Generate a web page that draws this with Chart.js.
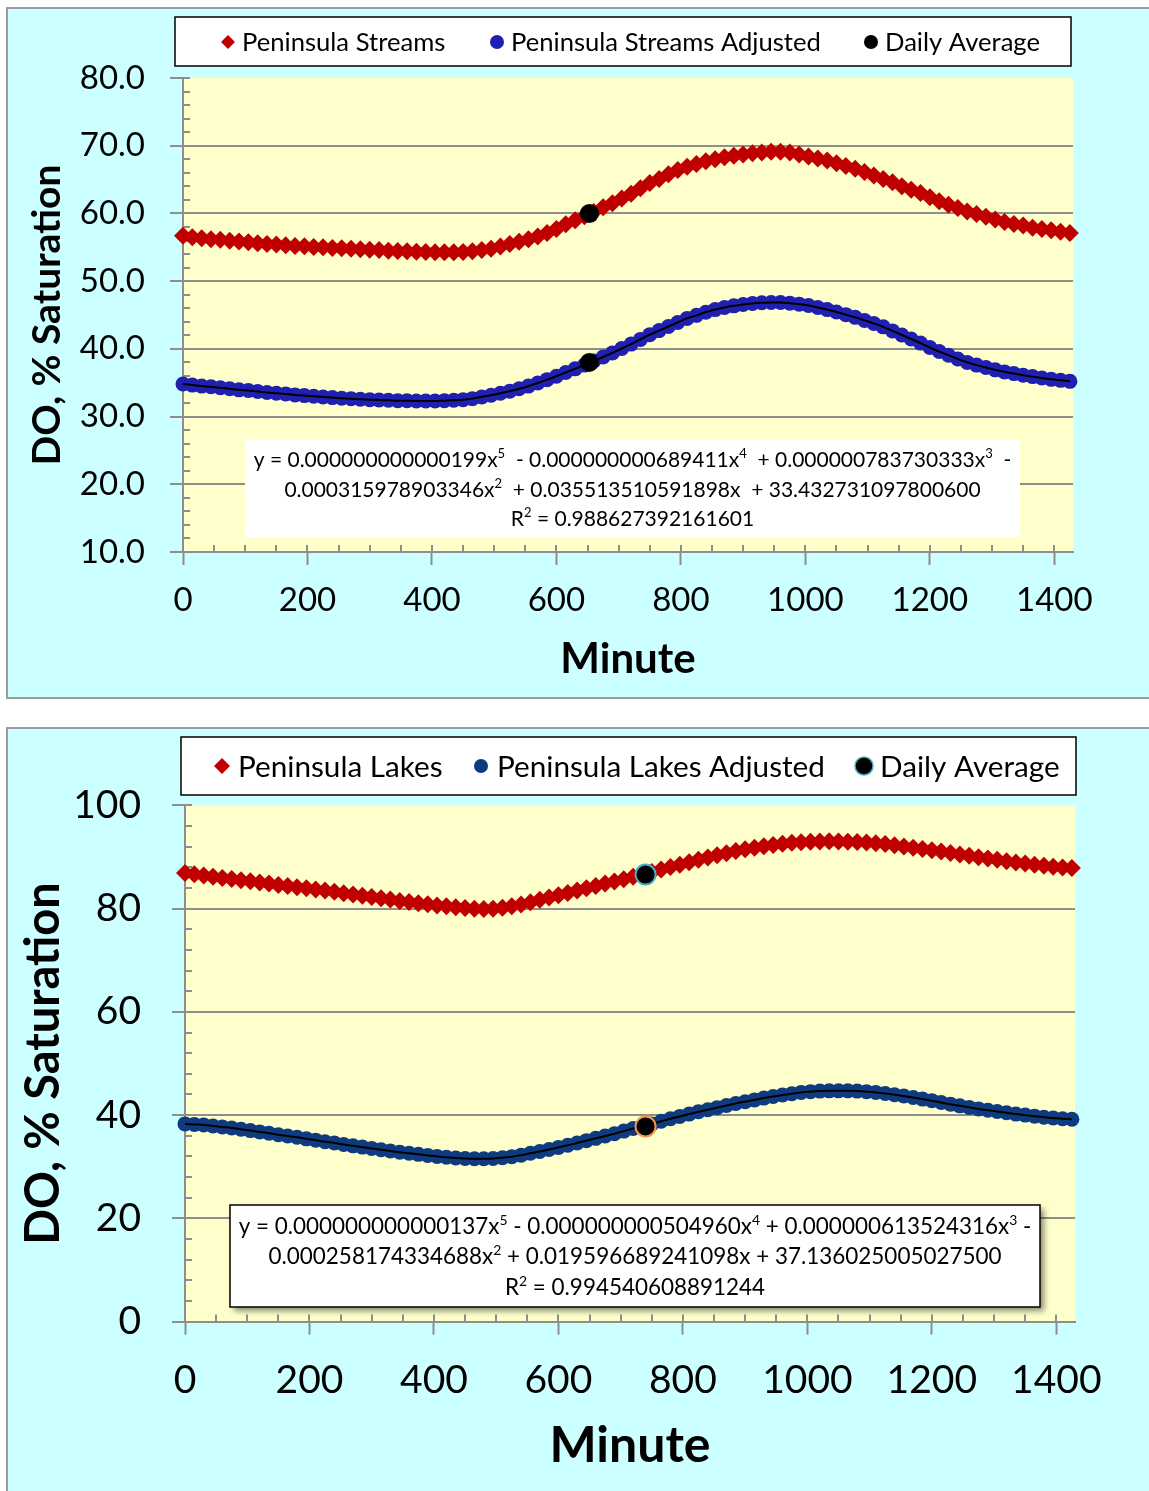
<!DOCTYPE html>
<html>
<head>
<meta charset="utf-8">
<title>DO % Saturation — Peninsula Streams / Lakes</title>
<script src="https://cdn.jsdelivr.net/npm/chart.js@4.4.1/dist/chart.umd.min.js"></script>
<style>
  html, body { margin: 0; padding: 0; background: #fff; overflow: hidden; }
  body { width: 1149px; height: 1491px; position: relative; }
  .panel { position: absolute; left: 6px; width: 1170px; background: #CCFFFF; border: 2px solid #9c9c9c; box-sizing: border-box; }
  #panelTop { top: 7px; height: 692px; }
  #panelBottom { top: 727px; height: 800px; }
  canvas { position: absolute; left: 0; }
  #streams { top: 0; width: 1149px; height: 720px; }
  #lakes { top: 720px; width: 1149px; height: 771px; }
</style>
</head>
<body>
<div class="panel" id="panelTop"></div>
<div class="panel" id="panelBottom"></div>
<canvas id="streams" width="1149" height="720"></canvas>
<canvas id="lakes" width="1149" height="771"></canvas>
<script>
// sample times (minutes), one reading every 15 min
const MINUTES = [
  0, 15, 30, 45, 60, 75, 90, 105, 120, 135, 150, 165,
  180, 195, 210, 225, 240, 255, 270, 285, 300, 315, 330, 345,
  360, 375, 390, 405, 420, 435, 450, 465, 480, 495, 510, 525,
  540, 555, 570, 585, 600, 615, 630, 645, 660, 675, 690, 705,
  720, 735, 750, 765, 780, 795, 810, 825, 840, 855, 870, 885,
  900, 915, 930, 945, 960, 975, 990, 1005, 1020, 1035, 1050, 1065,
  1080, 1095, 1110, 1125, 1140, 1155, 1170, 1185, 1200, 1215, 1230, 1245,
  1260, 1275, 1290, 1305, 1320, 1335, 1350, 1365, 1380, 1395, 1410, 1425
];

const STREAMS = [
  56.7, 56.5, 56.35, 56.2, 56.1, 55.95, 55.85, 55.75, 55.6, 55.5, 55.4, 55.3,
  55.2, 55.15, 55.05, 55.0, 54.9, 54.85, 54.8, 54.7, 54.65, 54.6, 54.5, 54.45,
  54.4, 54.35, 54.3, 54.25, 54.25, 54.25, 54.3, 54.4, 54.6, 54.8, 55.1, 55.5,
  55.8, 56.2, 56.6, 57.1, 57.7, 58.4, 59.0, 59.6, 60.2, 60.9, 61.5, 62.2,
  62.9, 63.7, 64.5, 65.1, 65.8, 66.4, 66.9, 67.3, 67.7, 68.0, 68.3, 68.5,
  68.7, 68.9, 69.0, 69.1, 69.1, 69.0, 68.7, 68.4, 68.1, 67.8, 67.4, 67.0,
  66.6, 66.1, 65.6, 65.1, 64.6, 64.0, 63.5, 63.0, 62.4, 61.8, 61.3, 60.8,
  60.3, 59.9, 59.5, 59.1, 58.75, 58.45, 58.2, 57.9, 57.7, 57.5, 57.3, 57.1
];
const STREAMS_ADJ = [
  34.8, 34.65, 34.5, 34.4, 34.25, 34.1, 33.95, 33.85, 33.7, 33.55, 33.45, 33.35,
  33.2, 33.1, 33.0, 32.9, 32.8, 32.7, 32.65, 32.55, 32.5, 32.45, 32.4, 32.35,
  32.35, 32.3, 32.3, 32.3, 32.35, 32.4, 32.5, 32.65, 32.9, 33.15, 33.45, 33.75,
  34.1, 34.5, 34.95, 35.45, 35.95, 36.5, 37.05, 37.6, 38.2, 38.8, 39.4, 40.05,
  40.7, 41.4, 42.1, 42.7, 43.3, 43.9, 44.5, 44.95, 45.4, 45.8, 46.1, 46.35,
  46.55, 46.7, 46.8, 46.85, 46.85, 46.75, 46.6, 46.4, 46.1, 45.8, 45.45, 45.05,
  44.65, 44.2, 43.75, 43.25, 42.65, 42.05, 41.45, 40.85, 40.2, 39.6, 39.05, 38.5,
  38.0, 37.6, 37.25, 36.9, 36.6, 36.35, 36.1, 35.9, 35.7, 35.5, 35.35, 35.2
];
const STREAMS_AVG_X = [653, 653];
const STREAMS_AVG = [60.0, 38.0];

const LAKES = [
  86.9, 86.65, 86.4, 86.2, 85.95, 85.75, 85.5, 85.3, 85.05, 84.85, 84.6, 84.4,
  84.15, 83.95, 83.7, 83.5, 83.25, 83.0, 82.75, 82.5, 82.25, 82.0, 81.75, 81.5,
  81.3, 81.05, 80.85, 80.6, 80.45, 80.25, 80.1, 80.0, 79.95, 80.0, 80.15, 80.45,
  80.8, 81.25, 81.7, 82.15, 82.6, 83.05, 83.5, 83.95, 84.4, 84.85, 85.25, 85.7,
  86.2, 86.65, 87.1, 87.6, 88.05, 88.5, 89.0, 89.45, 89.9, 90.35, 90.75, 91.15,
  91.5, 91.8, 92.1, 92.35, 92.55, 92.75, 92.85, 92.95, 93.0, 93.05, 93.0, 92.95,
  92.9, 92.8, 92.65, 92.5, 92.3, 92.05, 91.8, 91.55, 91.3, 91.05, 90.8, 90.5,
  90.25, 89.95, 89.7, 89.45, 89.2, 88.95, 88.75, 88.5, 88.3, 88.1, 87.95, 87.85
];
const LAKES_ADJ = [
  38.3, 38.2, 38.1, 37.9, 37.7, 37.5, 37.25, 37.0, 36.75, 36.5, 36.2, 35.95,
  35.7, 35.4, 35.15, 34.85, 34.6, 34.3, 34.05, 33.8, 33.55, 33.3, 33.05, 32.8,
  32.6, 32.4, 32.2, 32.0, 31.85, 31.7, 31.6, 31.55, 31.55, 31.6, 31.75, 31.95,
  32.25, 32.6, 32.95, 33.35, 33.75, 34.15, 34.6, 35.05, 35.5, 35.95, 36.4, 36.9,
  37.4, 37.85, 38.3, 38.8, 39.3, 39.75, 40.2, 40.65, 41.05, 41.45, 41.85, 42.25,
  42.6, 42.95, 43.3, 43.6, 43.9, 44.15, 44.4, 44.55, 44.65, 44.7, 44.7, 44.7,
  44.65, 44.55, 44.4, 44.2, 43.95, 43.7, 43.4, 43.1, 42.8, 42.45, 42.1, 41.8,
  41.5, 41.2, 40.95, 40.7, 40.45, 40.2, 40.0, 39.8, 39.6, 39.45, 39.3, 39.2
];
const LAKES_AVG_X = [740, 740];
const LAKES_AVG = [86.6, 37.8];

const X_TICKS = [0, 200, 400, 600, 800, 1000, 1200, 1400];
const STREAMS_Y_TICKS = [10, 20, 30, 40, 50, 60, 70, 80];
const LAKES_Y_TICKS = [0, 20, 40, 60, 80, 100];

// trendline labels, ^n marks a superscript
const STREAMS_FIT = [
  'y = 0.000000000000199x^5  - 0.000000000689411x^4  + 0.000000783730333x^3  -',
  '0.000315978903346x^2  + 0.035513510591898x  + 33.432731097800600',
  'R^2 = 0.988627392161601'
];
const LAKES_FIT = [
  'y = 0.000000000000137x^5 - 0.000000000504960x^4 + 0.000000613524316x^3 -',
  '0.000258174334688x^2 + 0.019596689241098x + 37.136025005027500',
  'R^2 = 0.994540608891244'
];

const FONT = "Lato, 'Open Sans', sans-serif";
const RED = '#C00000';
const GRID = '#8e8e8e';

Chart.defaults.font.family = FONT;
Chart.defaults.color = '#000';

const pairs = (xs, ys) => ys.map((y, i) => ({ x: xs[i], y }));

const segsOf = (line) => line.split(/\^(\d)/);

const lineWidth = (ctx, line, size) => {
  let w = 0;
  segsOf(line).forEach((s, i) => {
    ctx.font = `${i % 2 ? size * 0.62 : size}px ${FONT}`;
    w += ctx.measureText(s).width;
  });
  return w;
};

// plot background
const plotBg = {
  id: 'plotBg',
  beforeDraw(chart, args, o) {
    const { ctx, chartArea: a } = chart;
    ctx.save();
    ctx.fillStyle = o.color;
    ctx.fillRect(a.left, a.top, a.right - a.left, a.bottom - a.top);
    ctx.restore();
  }
};

// minor ticks drawn inside the plot
const minorTicks = {
  id: 'minorTicks',
  beforeDatasetsDraw(chart, args, o) {
    const { ctx, chartArea: a, scales: { x, y } } = chart;
    ctx.save();
    ctx.strokeStyle = GRID;
    ctx.lineWidth = 2;
    ctx.beginPath();
    for (let v = y.min; v <= y.max; v += o.yStep) {
      const py = Math.round(y.getPixelForValue(v));
      ctx.moveTo(a.left, py);
      ctx.lineTo(a.left + 7, py);
    }
    for (let v = o.xStep; v <= x.max; v += o.xStep) {
      const px = Math.round(x.getPixelForValue(v));
      ctx.moveTo(px, a.bottom);
      ctx.lineTo(px, a.bottom - 7);
    }
    ctx.stroke();
    ctx.restore();
  }
};

// boxed legend on top of the plot
const boxedLegend = {
  id: 'boxedLegend',
  afterDraw(chart, args, o) {
    const { ctx } = chart;
    const [bx, by, bw, bh] = o.box;
    ctx.save();
    ctx.fillStyle = '#fff';
    ctx.fillRect(bx, by, bw, bh);
    ctx.strokeStyle = '#000';
    ctx.lineWidth = 1.5;
    ctx.strokeRect(bx, by, bw, bh);

    const items = chart.data.datasets.filter(d => d.inLegend !== false);
    ctx.font = `100px ${FONT}`;
    const size = 100 * o.fitWidth / ctx.measureText(items[o.fitIndex].label).width;
    items.forEach((d, i) => {
      const mx = o.markerX[i];
      const first = (v) => Array.isArray(v) ? v[0] : v;
      ctx.fillStyle = first(d.pointBackgroundColor);
      ctx.strokeStyle = first(d.pointBorderColor) || ctx.fillStyle;
      Chart.helpers.drawPoint(ctx, {
        pointStyle: d.pointStyle || 'circle',
        radius: o.radius[i],
        borderWidth: first(d.pointBorderWidth) || 0,
        rotation: 0
      }, mx, o.y);
      ctx.fillStyle = '#000';
      ctx.font = `${size}px ${FONT}`;
      ctx.textBaseline = 'middle';
      ctx.textAlign = 'left';
      ctx.fillText(d.label, mx + o.gap, o.y + 1);
    });
    ctx.restore();
  }
};

// trendline equation box
const fitLabel = {
  id: 'fitLabel',
  afterDatasetsDraw(chart, args, o) {
    const { ctx } = chart;
    const [bx, by, bw, bh] = o.box;
    ctx.save();
    if (o.shadow) {
      ctx.shadowColor = 'rgba(0,0,0,0.45)';
      ctx.shadowBlur = 6;
      ctx.shadowOffsetX = 4;
      ctx.shadowOffsetY = 4;
    }
    ctx.fillStyle = '#fff';
    ctx.fillRect(bx, by, bw, bh);
    ctx.shadowColor = 'transparent';
    if (o.border) {
      ctx.strokeStyle = '#000';
      ctx.lineWidth = 1.5;
      ctx.strokeRect(bx, by, bw, bh);
    }
    const size = 100 * o.fitWidth / lineWidth(ctx, o.lines[0], 100);
    const cx = bx + bw / 2;
    ctx.fillStyle = '#000';
    ctx.textBaseline = 'alphabetic';
    ctx.textAlign = 'left';
    o.lines.forEach((line, li) => {
      let x = cx - lineWidth(ctx, line, size) / 2;
      const base = o.lineY[li] + size * 0.36;
      segsOf(line).forEach((s, i) => {
        const sup = i % 2 === 1;
        ctx.font = `${sup ? size * 0.62 : size}px ${FONT}`;
        ctx.fillText(s, x, sup ? base - size * 0.4 : base);
        x += ctx.measureText(s).width;
      });
    });
    ctx.restore();
  }
};

function axisX(o) {
  return {
    type: 'linear',
    min: 0,
    max: 1430,
    afterBuildTicks: (s) => { s.ticks = X_TICKS.map(v => ({ value: v })); },
    afterFit: (s) => { s.height = o.height; },
    ticks: { color: '#000', font: { size: o.tickSize }, padding: o.tickPad, maxRotation: 0, autoSkip: false, callback: (v) => String(v) },
    grid: { drawOnChartArea: false, drawTicks: true, tickLength: 13, tickColor: GRID, tickWidth: 2 },
    border: { display: true, color: GRID, width: 2 },
    title: { display: true, text: 'Minute', color: '#000', font: { size: o.titleSize, weight: 'bold' }, padding: { top: 0, bottom: o.titlePad } }
  };
}

function axisY(o) {
  return {
    min: o.ticksList[0],
    max: o.ticksList[o.ticksList.length - 1],
    afterBuildTicks: (s) => { s.ticks = o.ticksList.map(v => ({ value: v })); },
    afterFit: (s) => { s.width = o.width; },
    ticks: { color: '#000', font: { size: o.tickSize }, padding: o.tickPad, callback: o.fmt },
    grid: {
      color: (c) => (c.tick && c.tick.value === o.ticksList[o.ticksList.length - 1]) ? 'rgba(0,0,0,0)' : GRID,
      lineWidth: 2, tickLength: 13, tickColor: GRID, tickWidth: 2
    },
    border: { display: true, color: GRID, width: 2 },
    title: { display: true, text: 'DO, % Saturation', color: '#000', font: { size: o.titleSize, weight: 'bold' }, padding: { top: o.titlePad, bottom: 0 } }
  };
}

// ---- Peninsula Streams ----
new Chart(document.getElementById('streams'), {
  type: 'scatter',
  data: {
    datasets: [
      { label: 'Peninsula Streams', data: pairs(MINUTES, STREAMS), pointStyle: 'rectRot', pointRadius: 9,
        pointBackgroundColor: RED, pointBorderColor: RED, pointBorderWidth: 0, clip: false, order: 4 },
      { label: 'Peninsula Streams Adjusted', data: pairs(MINUTES, STREAMS_ADJ), pointStyle: 'circle', pointRadius: 7.5,
        pointBackgroundColor: '#2020B0', pointBorderColor: '#2020B0', pointBorderWidth: 0, clip: false, order: 3 },
      { label: 'Daily Average', data: pairs(STREAMS_AVG_X, STREAMS_AVG), pointStyle: 'circle', pointRadius: 9.5,
        pointBackgroundColor: '#000', pointBorderColor: '#000', pointBorderWidth: 0, clip: false, order: 1 },
      { label: 'Poly. (Peninsula Streams Adjusted)', inLegend: false, data: pairs(MINUTES, STREAMS_ADJ), showLine: true,
        borderColor: '#000', borderWidth: 2, pointRadius: 0, tension: 0.4, order: 2 }
    ]
  },
  options: {
    responsive: false,
    animation: false,
    events: [],
    layout: { padding: { left: 0, top: 78, right: 76, bottom: 0 } },
    plugins: {
      legend: { display: false },
      tooltip: { enabled: false },
      plotBg: { color: '#FFFFCC' },
      minorTicks: { yStep: 2, xStep: 50 },
      boxedLegend: { box: [175, 17, 896, 49], y: 42, markerX: [228, 497, 871], radius: [7, 7, 7], gap: 14, fitIndex: 1, fitWidth: 310 },
      fitLabel: { box: [245, 440, 775, 97], lines: STREAMS_FIT, lineY: [459, 489, 518], fitWidth: 758, border: false, shadow: false }
    },
    scales: {
      x: axisX({ height: 168, tickSize: 33, tickPad: 16, titleSize: 42, titlePad: 35 }),
      y: axisY({ ticksList: STREAMS_Y_TICKS, width: 183, tickSize: 33, tickPad: 25, titleSize: 39, titlePad: 23.6, fmt: (v) => v.toFixed(1) })
    }
  },
  plugins: [plotBg, minorTicks, fitLabel, boxedLegend]
});

// ---- Peninsula Lakes ----
new Chart(document.getElementById('lakes'), {
  type: 'scatter',
  data: {
    datasets: [
      { label: 'Peninsula Lakes', data: pairs(MINUTES, LAKES), pointStyle: 'rectRot', pointRadius: 9,
        pointBackgroundColor: RED, pointBorderColor: RED, pointBorderWidth: 0, clip: false, order: 4 },
      { label: 'Peninsula Lakes Adjusted', data: pairs(MINUTES, LAKES_ADJ), pointStyle: 'circle', pointRadius: 7.5,
        pointBackgroundColor: '#0E3B80', pointBorderColor: '#0E3B80', pointBorderWidth: 0, clip: false, order: 3 },
      { label: 'Daily Average', data: pairs(LAKES_AVG_X, LAKES_AVG), pointStyle: 'circle', pointRadius: 10,
        pointBackgroundColor: '#000', pointBorderColor: ['#4BACC6', '#F79646'], pointBorderWidth: 2, clip: false, order: 1 },
      { label: 'Poly. (Peninsula Lakes Adjusted)', inLegend: false, data: pairs(MINUTES, LAKES_ADJ), showLine: true,
        borderColor: '#000', borderWidth: 2, pointRadius: 0, tension: 0.4, order: 2 }
    ]
  },
  options: {
    responsive: false,
    animation: false,
    events: [],
    layout: { padding: { left: 0, top: 85.4, right: 74, bottom: 0 } },
    plugins: {
      legend: { display: false },
      tooltip: { enabled: false },
      plotBg: { color: '#FFFFCC' },
      minorTicks: { yStep: 4, xStep: 50 },
      boxedLegend: { box: [181, 17, 895, 58], y: 46, markerX: [222, 481, 864], radius: [8, 7, 9], gap: 16, fitIndex: 1, fitWidth: 328 },
      fitLabel: { box: [230, 485, 810, 102], lines: LAKES_FIT, lineY: [506, 536, 567], fitWidth: 793, border: true, shadow: true }
    },
    scales: {
      x: axisX({ height: 169.4, tickSize: 39, tickPad: 22, titleSize: 50, titlePad: 15 }),
      y: axisY({ ticksList: LAKES_Y_TICKS, width: 185, tickSize: 39, tickPad: 31, titleSize: 47, titlePad: 15.8, fmt: (v) => String(v) })
    }
  },
  plugins: [plotBg, minorTicks, fitLabel, boxedLegend]
});
</script>
</body>
</html>
